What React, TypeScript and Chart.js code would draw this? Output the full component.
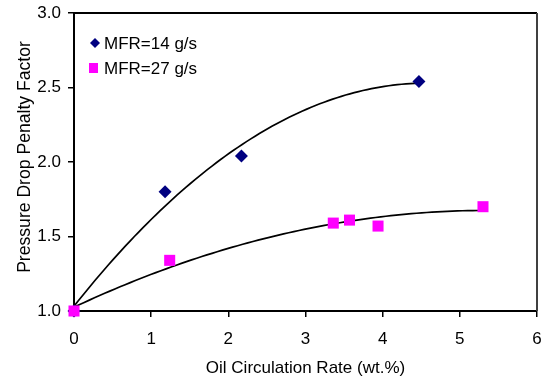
import React, { useEffect, useRef } from "react";
import { Chart, registerables } from "chart.js";

Chart.register(...registerables);

const FONT = "'Liberation Sans', Arial, sans-serif";

const series14Name = "MFR=14 g/s";
const series14X = [0, 1.18, 2.17, 4.47];
const series14Y = [1.0, 1.8, 2.04, 2.54];

const series27Name = "MFR=27 g/s";
const series27X = [0, 1.24, 3.36, 3.57, 3.94, 5.3];
const series27Y = [1.0, 1.34, 1.59, 1.61, 1.57, 1.7];

const xTitle = "Oil Circulation Rate (wt.%)";
const yTitle = "Pressure Drop Penalty Factor";

const color14 = "#000080";
const color27 = "#FF00FF";

// least-squares quadratic fit (like an Excel polynomial trendline)
function quadFit(xs: number[], ys: number[]) {
  let s0 = 0, s1 = 0, s2 = 0, s3 = 0, s4 = 0, t0 = 0, t1 = 0, t2 = 0;
  for (let i = 0; i < xs.length; i++) {
    const x = xs[i], y = ys[i];
    s0 += 1; s1 += x; s2 += x * x; s3 += x * x * x; s4 += x * x * x * x;
    t0 += y; t1 += x * y; t2 += x * x * y;
  }
  const M = [
    [s0, s1, s2, t0],
    [s1, s2, s3, t1],
    [s2, s3, s4, t2],
  ];
  for (let i = 0; i < 3; i++) {
    for (let j = i + 1; j < 3; j++) {
      const f = M[j][i] / M[i][i];
      for (let k = i; k < 4; k++) M[j][k] -= f * M[i][k];
    }
  }
  const c = [0, 0, 0];
  for (let i = 2; i >= 0; i--) {
    let s = M[i][3];
    for (let k = i + 1; k < 3; k++) s -= M[i][k] * c[k];
    c[i] = s / M[i][i];
  }
  return c;
}

function trend(xs: number[], ys: number[]) {
  const [a, b, c] = quadFit(xs, ys);
  const x0 = Math.min(...xs), x1 = Math.max(...xs);
  const pts = [];
  const n = 80;
  for (let i = 0; i <= n; i++) {
    const x = x0 + ((x1 - x0) * i) / n;
    pts.push({ x, y: a + b * x + c * x * x });
  }
  return pts;
}

const decorPlugin = {
  id: "decor",
  afterDraw(chart: any) {
    const { ctx, chartArea } = chart;
    const { left, right, top, bottom } = chartArea;
    ctx.save();
    // frame top and right
    ctx.lineWidth = 2;
    ctx.strokeStyle = "#000";
    ctx.beginPath();
    ctx.moveTo(left, top);
    ctx.lineTo(right, top);
    ctx.stroke();
    ctx.strokeStyle = "#404040";
    ctx.beginPath();
    ctx.moveTo(right, top);
    ctx.lineTo(right, bottom);
    ctx.stroke();

    // legend
    ctx.font = `17px ${FONT}`;
    ctx.textBaseline = "middle";
    ctx.textAlign = "left";
    const lx = left + 21;
    const ly1 = top + 30;
    const ly2 = top + 55;
    ctx.fillStyle = color14;
    ctx.beginPath();
    ctx.moveTo(lx, ly1 - 5);
    ctx.lineTo(lx + 5, ly1);
    ctx.lineTo(lx, ly1 + 5);
    ctx.lineTo(lx - 5, ly1);
    ctx.closePath();
    ctx.fill();
    ctx.fillStyle = color27;
    ctx.fillRect(lx - 6, ly2 - 5, 9, 10);
    ctx.fillStyle = "#000";
    ctx.fillText(series14Name, lx + 9, ly1 + 1);
    ctx.fillText(series27Name, lx + 9, ly2 + 1);

    // axis titles
    ctx.textAlign = "center";
    ctx.fillText(xTitle, (left + right) / 2, 368);
    ctx.font = `17.6px ${FONT}`;
    ctx.translate(25, 157);
    ctx.rotate(-Math.PI / 2);
    ctx.fillText(yTitle, 0, 0);
    ctx.restore();
  },
};

export default function App() {
  const ref = useRef<HTMLCanvasElement | null>(null);
  useEffect(() => {
    document.body.style.margin = "0";
    const canvas = ref.current!;
    const tickFont = { family: FONT, size: 17 };
    const chart = new Chart(canvas, {
      type: "scatter",
      data: {
        datasets: [
          {
            label: series27Name,
            data: series27X.map((x, i) => ({ x, y: series27Y[i] })),
            backgroundColor: color27,
            borderColor: color27,
            pointStyle: "rect",
            pointRadius: 7.8,
            borderWidth: 0,
            clip: false,
            order: 0,
          } as any,
          {
            label: series14Name,
            data: series14X.map((x, i) => ({ x, y: series14Y[i] })),
            backgroundColor: color14,
            borderColor: color14,
            pointStyle: "rectRot",
            pointRadius: 6.5,
            borderWidth: 0,
            clip: false,
            order: 1,
          } as any,
          {
            label: "trend14",
            data: trend(series14X, series14Y),
            showLine: true,
            borderColor: "#000",
            borderWidth: 1.7,
            pointRadius: 0,
            order: 2,
          } as any,
          {
            label: "trend27",
            data: trend(series27X, series27Y),
            showLine: true,
            borderColor: "#000",
            borderWidth: 1.7,
            pointRadius: 0,
            order: 2,
          } as any,
        ],
      },
      options: {
        animation: false,
        responsive: false,
        layout: { padding: { top: 13, right: 8, left: 0, bottom: 0 } },
        plugins: { legend: { display: false }, tooltip: { enabled: false } },
        scales: {
          x: {
            type: "linear",
            min: 0,
            max: 6,
            ticks: { stepSize: 1, color: "#000", font: tickFont, padding: 12, maxRotation: 0 },
            grid: { drawOnChartArea: false, drawTicks: true, tickLength: 6, color: "#000", lineWidth: 1.5 },
            border: { display: true, color: "#000", width: 2 },
            afterFit: (s: any) => {
              s.height = 70;
              s.paddingLeft = 0;
              s.paddingRight = 0;
            },
          },
          y: {
            type: "linear",
            min: 1,
            max: 3,
            ticks: {
              stepSize: 0.5,
              color: "#000",
              font: tickFont,
              padding: 7,
              callback: (v: any) => Number(v).toFixed(1),
            },
            grid: { drawOnChartArea: false, drawTicks: true, tickLength: 6, color: "#000", lineWidth: 1.5 },
            border: { display: true, color: "#000", width: 2 },
            afterFit: (s: any) => {
              s.width = 74;
              s.paddingTop = 0;
              s.paddingBottom = 0;
            },
          },
        },
      },
      plugins: [decorPlugin],
    });
    return () => chart.destroy();
  }, []);
  return (
    <div style={{ position: "absolute", left: 0, top: 0, width: 545, height: 381, background: "#fff" }}>
      <canvas ref={ref} width={545} height={381} />
    </div>
  );
}
